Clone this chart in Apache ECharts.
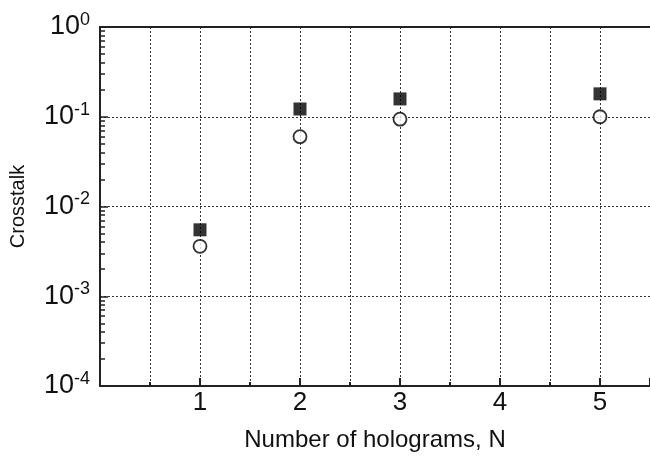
<!DOCTYPE html>
<html>
<head>
<meta charset="utf-8">
<script src="https://cdn.jsdelivr.net/npm/echarts@6/dist/echarts.min.js"></script>
<style>
  html, body { margin: 0; padding: 0; background: #fff; }
  #chart { width: 650px; height: 459px; }
</style>
</head>
<body>
<div id="chart"></div>
<script>
// data
const holograms = [1, 2, 3, 5]
const crosstalkSquares = [0.0055, 0.122, 0.158, 0.18]
const crosstalkCircles = [0.0036, 0.06, 0.094, 0.1]
const xTickLabels = [1, 2, 3, 4, 5]
const yDecades = [1e-4, 1e-3, 1e-2, 1e-1, 1]
const yMinorTicks = []
for (const d of yDecades.slice(0, 4)) {
  for (let k = 2; k <= 9; k++) yMinorTicks.push(d * k)
}

const FONT = 'Liberation Sans, Arial, Helvetica, sans-serif'

const chart = echarts.init(document.getElementById('chart'))
chart.setOption({
  animation: false,
  textStyle: { fontFamily: FONT },
  grid: { left: 100, right: 0, top: 27, bottom: 73, containLabel: false, outerBoundsMode: 'none' },
  xAxis: [{
    type: 'value',
    min: 0,
    max: 5.5,
    interval: 1,
    name: 'Number of holograms, N',
    nameLocation: 'middle',
    nameGap: 42,
    nameTextStyle: { fontSize: 24, color: '#111', fontFamily: FONT },
    axisLine: { lineStyle: { color: '#222', width: 2 } },
    axisTick: { inside: true, length: 8, lineStyle: { color: '#222', width: 2 } },
    minorTick: { show: true, splitNumber: 2, length: 4, lineStyle: { color: '#222', width: 2 } },
    axisLabel: {
      fontSize: 26,
      color: '#111',
      margin: 4,
      formatter: v => (xTickLabels.includes(v) ? String(v) : '')
    },
    splitLine: { show: true, lineStyle: { color: '#333', type: [2, 2], width: 1 } },
    minorSplitLine: { show: true, lineStyle: { color: '#333', type: [2, 2], width: 1 } }
  }, {
    type: 'value',
    position: 'top',
    min: 0,
    max: 5.5,
    axisLine: { show: true, onZero: false, lineStyle: { color: '#222', width: 2 } },
    axisTick: { show: false },
    axisLabel: { show: false },
    splitLine: { show: false }
  }],
  yAxis: [{
    type: 'log',
    logBase: 10,
    min: 1e-4,
    max: 1,
    name: 'Crosstalk',
    nameLocation: 'middle',
    nameGap: 72,
    nameTextStyle: { fontSize: 20, color: '#111', fontFamily: 'Liberation Sans' },
    axisLine: { show: true, lineStyle: { color: '#222', width: 2 } },
    axisTick: { show: true, inside: true, length: 8, lineStyle: { color: '#222', width: 1.5 } },
    axisLabel: {
      margin: 10,
      formatter: v => {
        const e = Math.round(Math.log10(v))
        return '{b|10}{s|' + (e === 0 ? '0' : String(e)) + '}'
      },
      rich: {
        b: { fontSize: 27, color: '#111', fontFamily: FONT },
        s: { fontSize: 18, color: '#111', fontFamily: FONT, padding: [0, 0, 14, 0] }
      }
    },
    splitLine: { show: true, lineStyle: { color: '#333', type: [2, 2], width: 1 } }
  }, {
    type: 'log',
    logBase: 10,
    min: 1e-4,
    max: 1,
    position: 'left',
    axisLine: { show: false },
    axisTick: {
      show: true,
      inside: true,
      length: 5,
      customValues: yMinorTicks,
      lineStyle: { color: '#222', width: 1.5 }
    },
    axisLabel: { show: false },
    splitLine: { show: false }
  }],
  series: [{
    name: 'squares',
    type: 'scatter',
    symbol: 'rect',
    symbolSize: 13,
    itemStyle: { color: '#000' },
    data: holograms.map((x, i) => [x, crosstalkSquares[i]])
  }, {
    name: 'circles',
    type: 'scatter',
    symbol: 'circle',
    symbolSize: 13,
    itemStyle: { color: '#fff', borderColor: '#000', borderWidth: 1.8 },
    data: holograms.map((x, i) => [x, crosstalkCircles[i]])
  }]
})
</script>
</body>
</html>
